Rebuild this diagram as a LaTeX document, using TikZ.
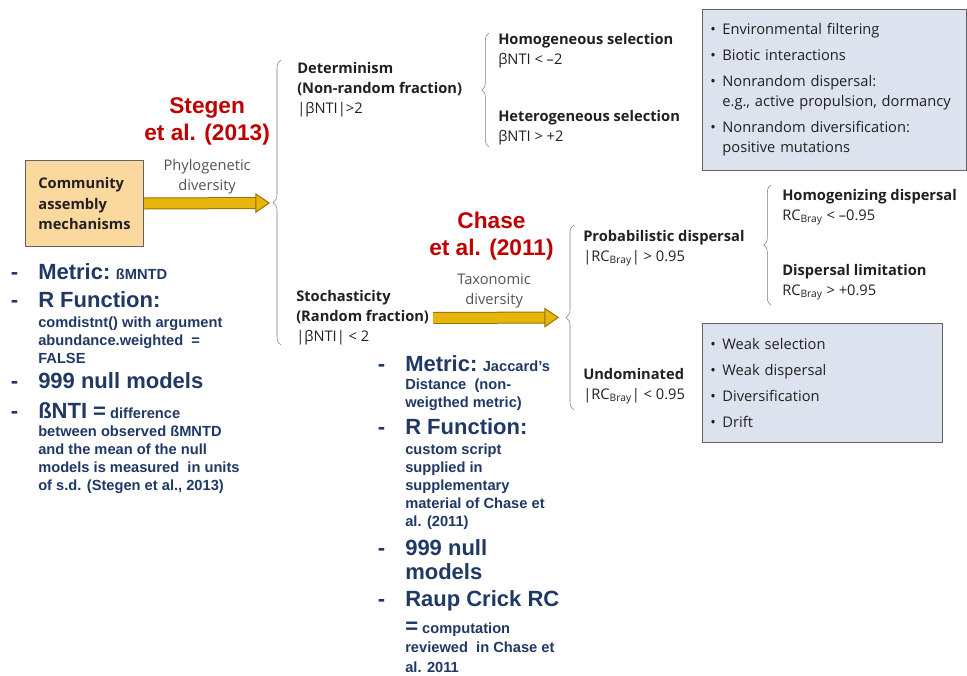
\documentclass[tikz,border=0pt]{standalone}
\usepackage{fontspec}
\setmainfont{Open Sans}
\newfontfamily\arialfont{Liberation Sans}
\usetikzlibrary{arrows.meta, decorations.pathreplacing, positioning, calc}
\definecolor{navy}{RGB}{31,56,100}
\definecolor{redref}{RGB}{192,0,0}
\definecolor{gold}{RGB}{232,182,10}
\definecolor{golddark}{RGB}{150,115,0}
\definecolor{tan}{RGB}{250,216,158}
\definecolor{boxblue}{RGB}{220,227,238}
\definecolor{ink}{RGB}{35,31,32}
\definecolor{brgray}{RGB}{125,125,125}
\newcommand{\bigb}[1]{{\fontsize{16.5}{19}\selectfont #1}}
\newcommand{\dash}{\llap{\bigb{-}\hspace{15pt}}}
\newcommand{\itm}[1]{\makebox[9pt][l]{\textbullet}#1}
\newcommand{\cnt}{\hspace*{9pt}}

\begin{document}
\begin{tikzpicture}[x=0.75pt, y=-0.75pt, inner sep=0pt, text=ink,
    font=\fontsize{11}{15}\selectfont,
    txt/.style={anchor=west, align=left},
    lbl/.style={align=center, text=black!68},
    cite/.style={align=center, text=redref, font=\arialfont\bfseries\fontsize{17}{20}\selectfont},
    blue/.style={anchor=north west, align=left, text=navy, font=\arialfont\bfseries\fontsize{11}{13.5}\selectfont},
    listbox/.style={draw=ink!70, fill=boxblue, anchor=north west, align=left, inner xsep=6pt, semithick},
    brc/.style={decorate, decoration={brace, amplitude=#1}, draw=brgray},
    fat/.style={draw=gold, line width=7.5pt, -{Triangle[length=11pt, width=15pt, line width=0.75pt, fill=gold, color=golddark]},
      preaction={draw=golddark, line width=9pt, shorten >=10pt, -}}]
  \useasboundingbox (0,0) rectangle (967,675);

  \node[draw=ink!70, fill=tan, semithick, minimum width=89pt, minimum height=64pt, align=left,
    font=\bfseries\fontsize{11}{15.4}\selectfont] (comm) at (84.5,203.5) {Community\\assembly\\mechanisms};

  \node[txt] (det) at (297,90) {\textbf{Determinism}\\\textbf{(Non-random fraction)}\\|βNTI|>2};
  \node[txt] (stoch) at (296,318) {\textbf{Stochasticity}\\\textbf{(Random fraction)}\\|βNTI| < 2};
  \node[txt] (homo) at (498,51) {\textbf{Homogeneous selection}\\βNTI < –2};
  \node[txt] (hetero) at (498,128) {\textbf{Heterogeneous selection}\\βNTI > +2};
  \node[txt] (prob) at (583,248) {\textbf{Probabilistic dispersal}\\|RC\textsubscript{Bray}| > 0.95};
  \node[txt] (undom) at (583,386) {\textbf{Undominated}\\|RC\textsubscript{Bray}| < 0.95};
  \node[txt] (homdisp) at (782,207) {\textbf{Homogenizing dispersal}\\RC\textsubscript{Bray} < –0.95};
  \node[txt] (displim) at (782,282) {\textbf{Dispersal limitation}\\RC\textsubscript{Bray} > +0.95};

  \node[listbox, minimum height=120.75pt, text width=186pt] (envbox) at (702,9)
    {\itm{Environmental filtering}\\[4.5pt]\itm{Biotic interactions}\\[4.5pt]\itm{Nonrandom dispersal:}\\\cnt e.g., active propulsion, dormancy\\[4.5pt]\itm{Nonrandom diversification:}\\\cnt positive mutations};
  \node[listbox, minimum height=89.25pt, text width=168pt] (weakbox) at (702,323)
    {\itm{Weak selection}\\[4.5pt]\itm{Weak dispersal}\\[4.5pt]\itm{Diversification}\\[4.5pt]\itm{Drift}};

  \coordinate (b1tip) at (270,203);
  \coordinate (b4tip) at (559,317.5);
  \draw[brc=6pt] (281,345) -- (281,60);
  \draw[brc=5.5pt] (489,147) -- (489,33);
  \draw[brc=5.5pt] (771,305) -- (771,185);
  \draw[brc=6pt] (574,410) -- (574,225);

  \draw[fat] (comm.east) -- (b1tip);
  \draw[fat] ([xshift=3pt]stoch.east) -- (b4tip);
  \node[lbl, above=7pt] (phylo) at ($(comm.east)!0.5!(b1tip)$) {Phylogenetic\\diversity};
  \node[cite, above=10pt of phylo] (stegen) {Stegen\\et al. (2013)};
  \node[lbl, above=7pt] (taxo) at ($(stoch.east)!0.5!(b4tip)$) {Taxonomic\\diversity};
  \node[cite, above=10pt of taxo, xshift=-2pt] (chase) {Chase\\et al. (2011)};

  \node[blue] (metric1) at (38,263) {\dash\bigb{Metric:} ßMNTD};
  \node[blue] (rfun1) at (38,291) {\dash\bigb{R Function:}\\[2pt]comdistnt() with argument\\abundance.weighted\ \ =\\FALSE};
  \node[blue] (null1) at (38,372) {\dash\bigb{999 null models}};
  \node[blue] (bnti) at (38,402) {\dash\bigb{ßNTI =} difference\\between observed ßMNTD\\and the mean of the null\\models is measured\ \ in units\\of s.d. (Stegen et al., 2013)};

  \node[blue] (metric2) at (405,355) {\dash\bigb{Metric:} Jaccard’s\\Distance\ \ (non-\\weigthed metric)};
  \node[blue] (rfun2) at (405,418) {\dash\bigb{R Function:}\\[2pt]custom script\\supplied in\\supplementary\\material of Chase et\\al. (2011)};
  \node[blue] (null2) at (405,539) {\dash\bigb{999 null}\\[5pt]\bigb{models}};
  \node[blue] (raup) at (405,590) {\dash\bigb{Raup Crick RC}\\[7pt]\bigb{=} computation\\[1pt]reviewed\ \ in Chase et\\[1pt]al. 2011};
\end{tikzpicture}
\end{document}
